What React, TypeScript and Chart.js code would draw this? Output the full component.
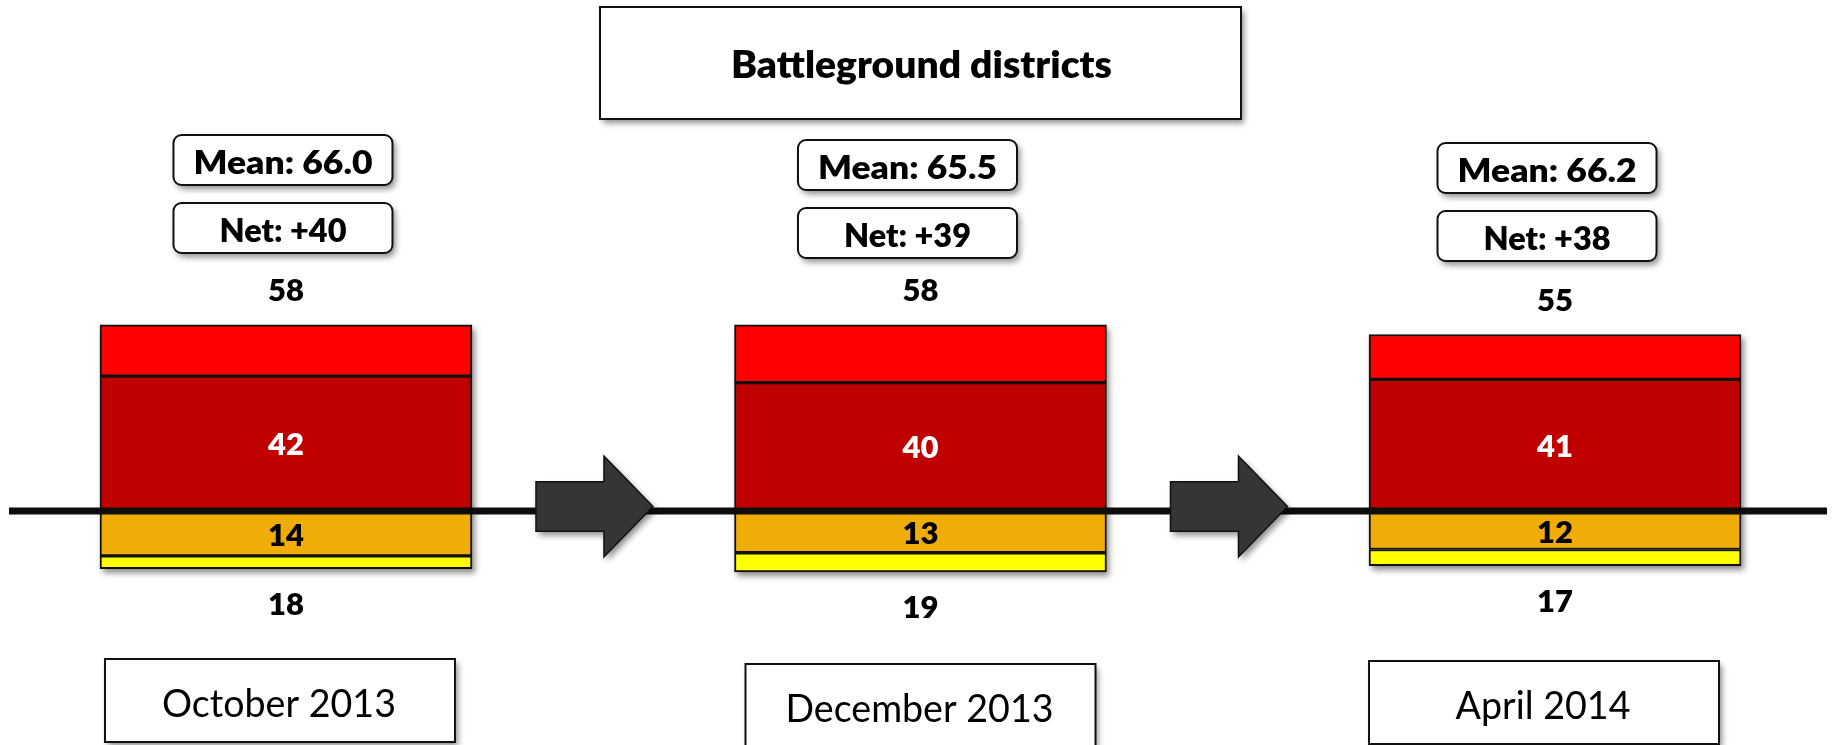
import React, { useEffect, useRef } from "react";
import { Chart, registerables } from "chart.js";

Chart.register(...registerables);

const W = 1833;
const H = 745;

// ---------- data ----------
const title = "Battleground districts";
const categories = ["October 2013", "December 2013", "April 2014"];
const strongPositive = [42, 40, 41];
const somewhatPositive = [16, 18, 14];
const strongNegative = [14, 13, 12];
const somewhatNegative = [4, 6, 5];
const positiveTotals = [58, 58, 55];
const negativeTotals = [18, 19, 17];
const meanScores = ["66.0", "65.5", "66.2"];
const netScores = ["+40", "+39", "+38"];

// ---------- style / layout ----------
const FONT = "Lato, 'Open Sans', sans-serif";
const CAP_RATIO = 0.7165; // Lato cap height / em
const COLORS = ["#C00000", "#FF0000", "#F0AD08", "#FFFF00"];
const LAYOUT = {
  meanDx: [-3, -13, -8],
  meanTop: [135, 140, 143],
  boxW: 219,
  boxH: 50,
  netGap: 68,
  dateDx: [-6, 0, -11],
  dateTop: [659, 664, 661],
  dateW: 350,
  dateH: 83,
  titleBox: { w: 641, top: 7, h: 112 },
};

// text style: cap height target, and width target for a reference string
type TextStyle = { cap: number; ref: string; refW: number; weight: string };
const BOLD = "800";
const TITLE_STYLE: TextStyle = { cap: 27, ref: "Battleground districts", refW: 381, weight: BOLD };
const MEAN_STYLE: TextStyle = { cap: 23.5, ref: "Mean: 66.0", refW: 179, weight: BOLD };
const NET_STYLE: TextStyle = { cap: 23.5, ref: "Net: +40", refW: 127, weight: BOLD };
const NUM_STYLE: TextStyle = { cap: 21, ref: "58", refW: 36, weight: BOLD };
const DATE_STYLE: TextStyle = { cap: 28.3, ref: "October 2013", refW: 234, weight: "normal" };

function drawText(
  ctx: CanvasRenderingContext2D,
  text: string,
  cx: number,
  cy: number,
  st: TextStyle,
  color: string
) {
  ctx.save();
  const size = st.cap / CAP_RATIO;
  ctx.font = `${st.weight} ${size}px ${FONT}`;
  const refW = ctx.measureText(st.ref).width;
  const sx = Math.max(0.6, Math.min(1.4, st.refW / refW));
  ctx.fillStyle = color;
  ctx.textAlign = "center";
  ctx.textBaseline = "alphabetic";
  ctx.translate(cx, cy + st.cap / 2);
  ctx.scale(sx, 1);
  ctx.fillText(text, 0, 0);
  ctx.restore();
}

function shadowed(ctx: CanvasRenderingContext2D, draw: () => void) {
  ctx.save();
  ctx.shadowColor = "rgba(0,0,0,0.45)";
  ctx.shadowBlur = 6;
  ctx.shadowOffsetX = 3;
  ctx.shadowOffsetY = 4;
  draw();
  ctx.restore();
}

function box(ctx: CanvasRenderingContext2D, x: number, y: number, w: number, h: number, r: number) {
  const path = () => {
    ctx.beginPath();
    if (r > 0) ctx.roundRect(x, y, w, h, r);
    else ctx.rect(x, y, w, h);
  };
  shadowed(ctx, () => {
    path();
    ctx.fillStyle = "#FFFFFF";
    ctx.fill();
  });
  ctx.save();
  path();
  ctx.lineWidth = 2;
  ctx.strokeStyle = "#111111";
  ctx.stroke();
  ctx.restore();
}

const overlayPlugin = {
  id: "overlay",
  beforeDatasetsDraw(chart: any) {
    const ctx: CanvasRenderingContext2D = chart.ctx;
    const xs = chart.scales.x;

    // title
    const tcx = xs.getPixelForValue(1);
    const tb = LAYOUT.titleBox;
    box(ctx, tcx - tb.w / 2, tb.top, tb.w, tb.h, 0);
    drawText(ctx, title, tcx + 1, 64, TITLE_STYLE, "#000");

    categories.forEach((cat, i) => {
      const cx = xs.getPixelForValue(i);
      // mean & net boxes
      const bx = cx + LAYOUT.meanDx[i] - LAYOUT.boxW / 2;
      const my = LAYOUT.meanTop[i];
      box(ctx, bx, my, LAYOUT.boxW, LAYOUT.boxH, 8);
      drawText(ctx, `Mean: ${meanScores[i]}`, bx + LAYOUT.boxW / 2, my + LAYOUT.boxH / 2 + 2, MEAN_STYLE, "#000");
      const ny = my + LAYOUT.netGap;
      box(ctx, bx, ny, LAYOUT.boxW, LAYOUT.boxH, 8);
      drawText(ctx, `Net: ${netScores[i]}`, bx + LAYOUT.boxW / 2, ny + LAYOUT.boxH / 2 + 2.5, NET_STYLE, "#000");

      // date boxes
      const dx = cx + LAYOUT.dateDx[i] - LAYOUT.dateW / 2;
      const dy = LAYOUT.dateTop[i];
      box(ctx, dx, dy, LAYOUT.dateW, LAYOUT.dateH, 0);
      drawText(ctx, cat, dx + LAYOUT.dateW / 2 - 1, dy + LAYOUT.dateH / 2 + 2, DATE_STYLE, "#000");
    });

    // bar stack shadows
    const topMeta = chart.getDatasetMeta(1);
    const botMeta = chart.getDatasetMeta(3);
    categories.forEach((_, i) => {
      const t = topMeta.data[i];
      const b = botMeta.data[i];
      const half = t.width / 2;
      shadowed(ctx, () => {
        ctx.fillStyle = "#FFFFFF";
        ctx.fillRect(t.x - half, t.y, half * 2, b.y - t.y);
      });
    });
  },
  afterDatasetsDraw(chart: any) {
    const ctx: CanvasRenderingContext2D = chart.ctx;
    const xs = chart.scales.x;
    const ys = chart.scales.y;
    const zero = ys.getPixelForValue(0);

    // baseline
    ctx.save();
    ctx.beginPath();
    ctx.moveTo(9, zero);
    ctx.lineTo(W - 6, zero);
    ctx.lineWidth = 7;
    ctx.strokeStyle = "#0D0D0D";
    ctx.stroke();
    ctx.restore();

    // arrows between periods
    for (let i = 0; i < categories.length - 1; i++) {
      const c = xs.getPixelForValue(i);
      const left = c + 250;
      const neck = left + 68;
      const tip = neck + 49;
      const cy = zero - 4.5;
      const bh = 24.7;
      const hh = 50.5;
      const path = () => {
        ctx.beginPath();
        ctx.moveTo(left, cy - bh);
        ctx.lineTo(neck, cy - bh);
        ctx.lineTo(neck, cy - hh);
        ctx.lineTo(tip, cy);
        ctx.lineTo(neck, cy + hh);
        ctx.lineTo(neck, cy + bh);
        ctx.lineTo(left, cy + bh);
        ctx.closePath();
      };
      shadowed(ctx, () => {
        path();
        ctx.fillStyle = "#353535";
        ctx.fill();
      });
      ctx.save();
      path();
      ctx.lineWidth = 1.5;
      ctx.strokeStyle = "#111111";
      ctx.stroke();
      ctx.restore();
    }

    // value labels
    const m0 = chart.getDatasetMeta(0);
    const m1 = chart.getDatasetMeta(1);
    const m2 = chart.getDatasetMeta(2);
    const m3 = chart.getDatasetMeta(3);
    categories.forEach((_, i) => {
      const x = m0.data[i].x;
      const dark = m0.data[i];
      drawText(ctx, String(strongPositive[i]), x, (dark.y + dark.base) / 2 + 1, NUM_STYLE, "#FFFFFF");
      const orange = m2.data[i];
      drawText(ctx, String(strongNegative[i]), x, (orange.y + orange.base) / 2 + 2, NUM_STYLE, "#000");
      drawText(ctx, String(positiveTotals[i]), x, m1.data[i].y - 34, NUM_STYLE, "#000");
      drawText(ctx, String(negativeTotals[i]), x, m3.data[i].y + 36, NUM_STYLE, "#000");
    });
  },
};

export default function App() {
  const ref = useRef<HTMLCanvasElement | null>(null);

  useEffect(() => {
    if (!ref.current) return;
    const toPoints = (arr: number[], sign: number) => arr.map((v, i) => ({ x: i, y: sign * v }));
    const series = [
      { label: "Strong positive", data: toPoints(strongPositive, 1) },
      { label: "Somewhat positive", data: toPoints(somewhatPositive, 1) },
      { label: "Strong negative", data: toPoints(strongNegative, -1) },
      { label: "Somewhat negative", data: toPoints(somewhatNegative, -1) },
    ];
    const chart = new Chart(ref.current, {
      type: "bar",
      data: {
        datasets: series.map((s, k) => ({
          ...s,
          backgroundColor: COLORS[k],
          borderColor: "#111111",
          borderWidth: 2,
          borderSkipped: false,
          barThickness: 372,
        })),
      },
      options: {
        animation: false,
        responsive: false,
        devicePixelRatio: 1,
        events: [],
        layout: { padding: 0 },
        plugins: { legend: { display: false }, tooltip: { enabled: false }, title: { display: false } },
        scales: {
          x: { type: "linear", min: -0.4507, max: 2.4381, offset: false, stacked: true, display: false },
          y: { min: -72.9, max: 159.2, stacked: true, display: false },
        },
      },
      plugins: [overlayPlugin],
    } as any);
    return () => chart.destroy();
  }, []);

  return (
    <div style={{ position: "fixed", left: 0, top: 0, width: W, height: H, background: "#fff" }}>
      <canvas ref={ref} width={W} height={H} style={{ display: "block", width: W, height: H }} />
    </div>
  );
}
